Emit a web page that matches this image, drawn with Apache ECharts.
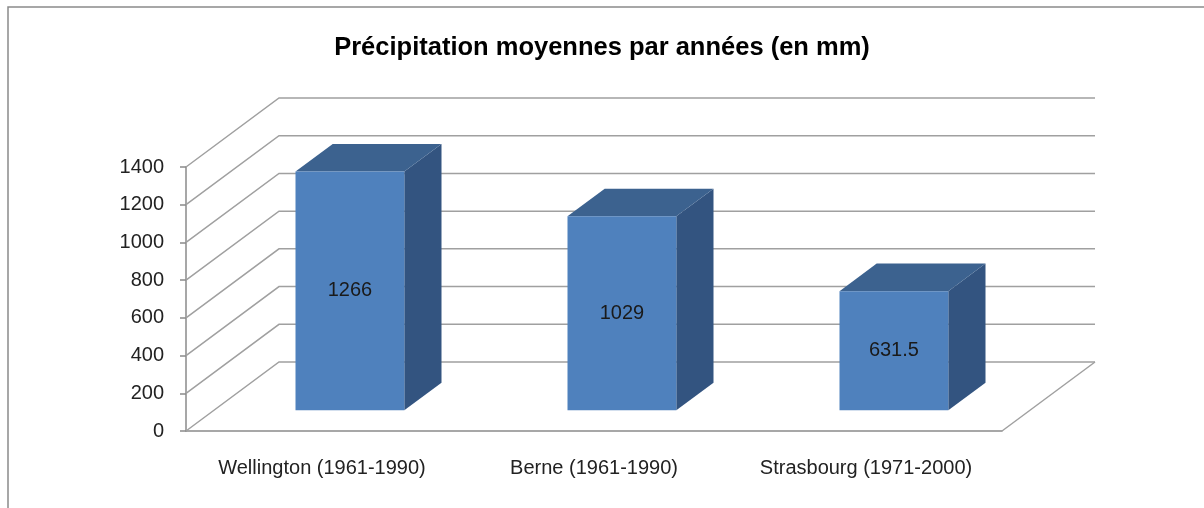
<!DOCTYPE html>
<html>
<head>
<meta charset="utf-8">
<script src="https://cdn.jsdelivr.net/npm/echarts@6/dist/echarts.min.js"></script>
<style>
  html, body { margin: 0; padding: 0; background: #fff; }
  #chart { width: 1204px; height: 508px; }
</style>
</head>
<body>
<div id="chart"></div>
<script>
// données
const categories = ['Wellington (1961-1990)', 'Berne (1961-1990)', 'Strasbourg (1971-2000)'];
const values = [1266, 1029, 631.5];
const yTicks = [0, 200, 400, 600, 800, 1000, 1200, 1400];

// décalage de profondeur (effet 3D)
const DX = 93;
const DY = -69;
const FONT = 'Arial, "Liberation Sans", sans-serif';

const chart = echarts.init(document.getElementById('chart'));

// murs du fond : diagonale à gauche puis ligne horizontale
function renderWall (params, api) {
  const cs = params.coordSys;
  const y = api.coord([0, api.value(1)])[1];
  const x0 = cs.x;
  const x1 = cs.x + cs.width;
  const children = [{
    type: 'polyline',
    shape: { points: [[x0, y], [x0 + DX, y + DY], [x1 + DX, y + DY]] },
    style: { stroke: '#a0a0a0', lineWidth: 1.5, fill: null }
  }];
  if (api.value(1) === 0) {
    // bord droit du sol
    children.push({
      type: 'line',
      shape: { x1: x1, y1: y, x2: x1 + DX, y2: y + DY },
      style: { stroke: '#a0a0a0', lineWidth: 1.5 }
    });
  }
  return { type: 'group', children: children };
}

// barres 3D : face avant, dessus, côté
function renderBar (params, api) {
  const base = api.coord([api.value(0), 0]);
  const top = api.coord([api.value(0), api.value(1)]);
  const w = api.size([1, 0])[0] * 0.4;
  const fx = base[0] - w / 2 + DX * 0.3;
  const fy0 = base[1] + DY * 0.3;
  const fy1 = top[1] + DY * 0.3;
  const ddx = DX * 0.4;
  const ddy = DY * 0.4;
  return {
    type: 'group',
    children: [{
      type: 'polygon',
      shape: { points: [[fx + w, fy1], [fx + w, fy0], [fx + w + ddx, fy0 + ddy], [fx + w + ddx, fy1 + ddy]] },
      style: { fill: '#335480' }
    }, {
      type: 'polygon',
      shape: { points: [[fx, fy1], [fx + w, fy1], [fx + w + ddx, fy1 + ddy], [fx + ddx, fy1 + ddy]] },
      style: { fill: '#3c628f' }
    }, {
      type: 'rect',
      shape: { x: fx, y: fy1, width: w, height: fy0 - fy1 },
      style: { fill: '#4f81bd' }
    }, {
      type: 'text',
      x: fx + w / 2,
      y: (fy0 + fy1) / 2,
      style: {
        text: String(api.value(1)),
        fill: '#1a1a1a',
        font: '20px ' + FONT,
        align: 'center',
        verticalAlign: 'middle'
      }
    }]
  };
}

const option = {
  animation: false,
  title: {
    text: 'Précipitation moyennes par années (en mm)',
    left: 'center',
    top: 30,
    textStyle: { fontFamily: FONT, fontSize: 25.5, fontWeight: 'bold', color: '#000' }
  },
  graphic: [{
    type: 'rect',
    shape: { x: 8, y: 7, width: 1400, height: 700 },
    style: { fill: null, stroke: '#8a8a8a', lineWidth: 1.5 },
    silent: true
  }],
  grid: { left: 186, top: 167, width: 816, height: 264 },
  xAxis: {
    type: 'category',
    data: categories,
    axisLine: { lineStyle: { color: '#8a8a8a', width: 1.5 } },
    axisTick: { length: 6, lineStyle: { color: '#8a8a8a', width: 1.5 } },
    axisLabel: { interval: 0, hideOverlap: false, margin: 27, color: '#222', fontFamily: FONT, fontSize: 20 }
  },
  yAxis: {
    type: 'value',
    min: 0,
    max: 1400,
    interval: 200,
    axisLine: { show: true, lineStyle: { color: '#8a8a8a', width: 1.5 } },
    axisTick: { show: true, length: 6, lineStyle: { color: '#8a8a8a', width: 1.5 } },
    axisLabel: {
      margin: 22,
      color: '#222',
      fontFamily: FONT,
      fontSize: 20,
      formatter: function (v) { return String(v) }
    },
    splitLine: { show: false }
  },
  series: [{
    type: 'custom',
    clip: false,
    z: 1,
    renderItem: renderWall,
    data: yTicks.map(function (t) { return [0, t] })
  }, {
    type: 'custom',
    clip: false,
    z: 3,
    renderItem: renderBar,
    data: values.map(function (v, i) { return [i, v] })
  }]
};
chart.setOption(option);
</script>
</body>
</html>
